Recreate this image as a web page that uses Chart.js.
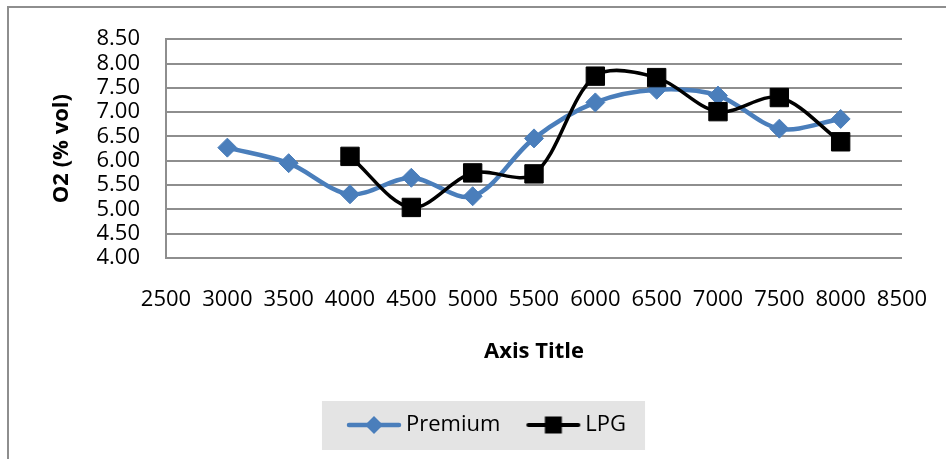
<!DOCTYPE html>
<html lang="en">
  <head>
    <meta charset="UTF-8">
    <title>O2 (% vol)</title>
    <script src="https://cdn.jsdelivr.net/npm/chart.js@4.4.6/dist/chart.umd.min.js"></script>
    <style>
      html, body { margin: 0; background: #fff; overflow: hidden; }
      #frame { position: absolute; left: 7px; top: 6px; width: 1000px; height: 500px; border-left: 2px solid #8e8e8e; border-top: 2px solid #8e8e8e; }
      #wrap { position: absolute; left: 0; top: 0; width: 946px; height: 459px; }
    </style>
  </head>
  <body>
    <div id="frame"></div>
    <div id="wrap"><canvas id="o2-chart"></canvas></div>
    <script>
      // engine speed for each run
      const premiumRpm = [3000, 3500, 4000, 4500, 5000, 5500, 6000, 6500, 7000, 7500, 8000];
      const lpgRpm = [4000, 4500, 5000, 5500, 6000, 6500, 7000, 7500, 8000];
      // O2 readings, % vol
      const premiumO2 = [6.27, 5.95, 5.31, 5.65, 5.27, 6.46, 7.20, 7.46, 7.34, 6.66, 6.86];
      const lpgO2 = [6.09, 5.04, 5.75, 5.73, 7.74, 7.71, 7.01, 7.30, 6.39];
      const seriesNames = ['Premium', 'LPG'];

      const BLUE = '#4a7ebb';
      const GRID = '#8e8e8e';
      Chart.defaults.font.family = "'Open Sans', sans-serif";
      Chart.defaults.color = '#000';

      const toPoints = (xs, ys) => xs.map((x, i) => ({ x, y: ys[i] }));

      // small line + marker swatch for the legend
      function legendIcon(color, width, marker) {
        const c = document.createElement('canvas');
        c.width = 56;
        c.height = 22;
        const g = c.getContext('2d');
        g.strokeStyle = color;
        g.fillStyle = color;
        g.lineWidth = width;
        g.lineCap = 'round';
        g.beginPath();
        g.moveTo(3, 11);
        g.lineTo(53, 11);
        g.stroke();
        g.beginPath();
        if (marker === 'diamond') {
          g.moveTo(28, 2);
          g.lineTo(37, 11);
          g.lineTo(28, 20);
          g.lineTo(19, 11);
          g.closePath();
        } else {
          g.rect(19.5, 2.5, 17, 17);
        }
        g.fill();
        return c;
      }
      const legendIcons = [legendIcon(BLUE, 4.5, 'diamond'), legendIcon('#000', 4, 'square')];

      // grey panel behind the legend entries
      const legendPanel = {
        id: 'legendPanel',
        beforeDraw(chart) {
          const boxes = chart.legend && chart.legend.legendHitBoxes;
          if (!boxes || !boxes.length) return;
          const first = boxes[0];
          const last = boxes[boxes.length - 1];
          const left = first.left - 31;
          const right = last.left + last.width + 19;
          const ctx = chart.ctx;
          ctx.save();
          ctx.fillStyle = '#e4e4e4';
          ctx.fillRect(left, first.top - 13, right - left, first.height + 27);
          ctx.restore();
        }
      };

      new Chart(document.getElementById('o2-chart'), {
        type: 'line',
        data: {
          datasets: [{
            label: seriesNames[0],
            data: toPoints(premiumRpm, premiumO2),
            borderColor: BLUE,
            backgroundColor: BLUE,
            borderWidth: 4.5,
            tension: 0.33,
            pointStyle: 'rectRot',
            pointRadius: 9.5,
            pointHoverRadius: 9.5,
            pointBorderWidth: 1,
            order: 2
          }, {
            label: seriesNames[1],
            data: toPoints(lpgRpm, lpgO2),
            borderColor: '#000',
            backgroundColor: '#000',
            borderWidth: 3.5,
            tension: 0.33,
            pointStyle: 'rect',
            pointRadius: 13,
            pointHoverRadius: 13,
            pointBorderWidth: 1,
            order: 1
          }]
        },
        options: {
          responsive: true,
          maintainAspectRatio: false,
          animation: false,
          layout: { padding: { left: 77, right: 44, top: 36, bottom: 13 } },
          plugins: {
            tooltip: { enabled: false },
            legend: {
              position: 'bottom',
              labels: {
                font: { size: 22 },
                color: '#000',
                padding: 32,
                usePointStyle: true,
                pointStyleWidth: 42,
                sort: (a, b) => a.datasetIndex - b.datasetIndex,
                generateLabels(chart) {
                  const items = Chart.defaults.plugins.legend.labels.generateLabels(chart);
                  items.forEach(item => { item.pointStyle = legendIcons[item.datasetIndex]; });
                  return items;
                }
              }
            }
          },
          scales: {
            x: {
              type: 'linear',
              min: 2500,
              max: 8500,
              // no vertical gridlines; the invisible tick marks just push the labels down
              grid: { color: 'transparent', drawTicks: true, tickLength: 28.8 },
              border: { display: false },
              ticks: {
                stepSize: 500,
                autoSkip: false,
                maxRotation: 0,
                minRotation: 0,
                padding: 0,
                font: { size: 22 },
                callback: v => String(v)
              },
              title: {
                display: true,
                text: 'Axis Title',
                font: { size: 22, weight: 'bold' },
                padding: { top: 0, bottom: 16.8 }
              },
              afterFit(scale) { scale.height = 124; }
            },
            y: {
              min: 4,
              max: 8.5,
              grid: { color: GRID, lineWidth: 2, drawTicks: false },
              border: { display: true, color: GRID, width: 2 },
              ticks: {
                stepSize: 0.5,
                autoSkip: false,
                padding: 26,
                font: { size: 22 },
                callback: v => Number(v).toFixed(2)
              },
              title: {
                display: true,
                text: 'O2 (% vol)',
                font: { size: 22, weight: 'bold' },
                padding: { top: -28.2, bottom: 0 }
              },
              afterFit(scale) { scale.width = 89; }
            }
          }
        },
        plugins: [legendPanel]
      });
    </script>
  </body>
</html>
